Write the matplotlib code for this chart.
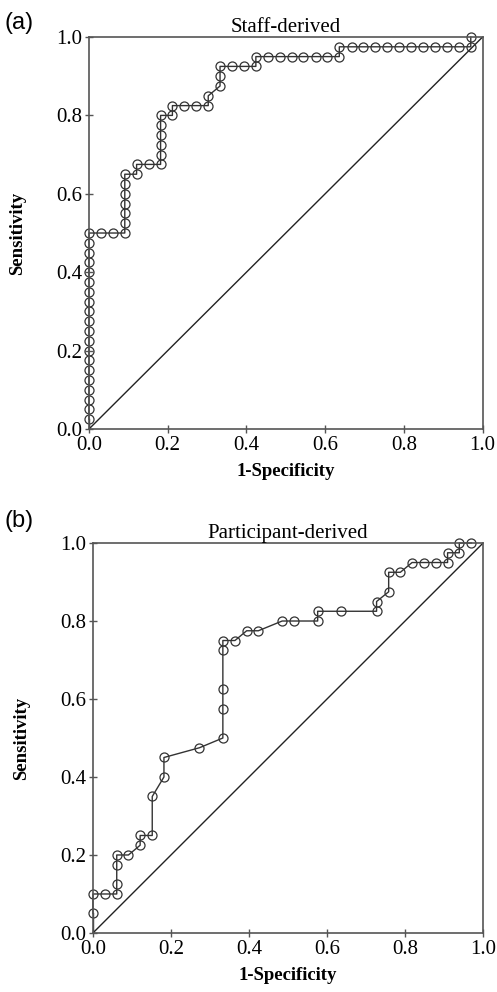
import matplotlib.pyplot as plt

plt.rcParams['font.family'] = 'Liberation Serif'

# (a) Staff-derived ROC points (1-specificity, sensitivity)
staff_x = [0.0] * 21 + [0.030, 0.061, 0.091, 0.091, 0.091, 0.091, 0.091, 0.091, 0.091,
           0.121, 0.121, 0.152, 0.182, 0.182, 0.182, 0.182, 0.182, 0.182,
           0.212, 0.212, 0.242, 0.273, 0.303, 0.303, 0.333, 0.333, 0.333,
           0.364, 0.394, 0.424, 0.424, 0.455, 0.485, 0.515, 0.545, 0.576, 0.606, 0.636,
           0.636, 0.667, 0.697, 0.727, 0.758, 0.788, 0.818, 0.848, 0.879, 0.909, 0.939, 0.970,
           0.970]
staff_y = [0.0, 0.025, 0.05, 0.075, 0.1, 0.125, 0.15, 0.175, 0.2, 0.225, 0.25,
           0.275, 0.3, 0.325, 0.35, 0.375, 0.4, 0.425, 0.45, 0.475, 0.5,
           0.5, 0.5, 0.5, 0.525, 0.55, 0.575, 0.6, 0.625, 0.65,
           0.65, 0.675, 0.675, 0.675, 0.7, 0.725, 0.75, 0.775, 0.8,
           0.8, 0.825, 0.825, 0.825, 0.825, 0.85, 0.875, 0.9, 0.925,
           0.925, 0.925, 0.925, 0.95, 0.95, 0.95, 0.95, 0.95, 0.95, 0.95, 0.95,
           0.975, 0.975, 0.975, 0.975, 0.975, 0.975, 0.975, 0.975, 0.975, 0.975, 0.975, 0.975,
           1.0]

# (b) Participant-derived ROC points
part_x = [0.0, 0.0, 0.0, 0.030, 0.061, 0.061, 0.061, 0.061, 0.091, 0.121, 0.121,
          0.152, 0.152, 0.182, 0.182, 0.273, 0.333, 0.333, 0.333, 0.333, 0.333,
          0.364, 0.394, 0.424, 0.485, 0.515, 0.576, 0.576, 0.636, 0.727, 0.727,
          0.758, 0.758, 0.788, 0.818, 0.848, 0.879, 0.909, 0.909, 0.939, 0.939, 0.970]
part_y = [0.0, 0.05, 0.1, 0.1, 0.1, 0.125, 0.175, 0.2, 0.2, 0.225, 0.25,
          0.25, 0.35, 0.4, 0.45, 0.475, 0.5, 0.575, 0.625, 0.725, 0.75,
          0.75, 0.775, 0.775, 0.8, 0.8, 0.8, 0.825, 0.825, 0.825, 0.85,
          0.875, 0.925, 0.925, 0.95, 0.95, 0.95, 0.95, 0.975, 0.975, 1.0, 1.0]

ticks = [0.0, 0.2, 0.4, 0.6, 0.8, 1.0]

fig = plt.figure(figsize=(4.97, 9.92), dpi=100)
ax1 = fig.add_axes([0.179, 0.5675, 0.792, 0.3952])
ax2 = fig.add_axes([0.187, 0.0595, 0.785, 0.3931])

panels = [(ax1, staff_x, staff_y, 'Staff-derived', '(a)', 0.977),
          (ax2, part_x, part_y, 'Participant-derived', '(b)', 0.475)]

for ax, xs, ys, title, tag, ty in panels:
    ax.plot([0, 1], [0, 1], color='#222222', lw=1.0)
    # first point (0, 0) is joined by the line but carries no marker
    ax.plot(xs[:2], ys[:2], color='#333333', lw=1.0)
    ax.plot(xs[1:], ys[1:], color='#333333', lw=1.0, marker='o', ms=6.5,
            markerfacecolor='none', markeredgecolor='#333333', mew=0.9,
            clip_on=False)
    ax.set_xlim(0, 1)
    ax.set_ylim(0, 1)
    ax.set_xticks(ticks)
    ax.set_yticks(ticks)
    ax.set_xticklabels(['%.1f' % t for t in ticks], fontsize=15)
    ax.set_yticklabels(['%.1f' % t for t in ticks], fontsize=15)
    ax.tick_params(axis='both', direction='inout', length=6, width=1.0,
                   color='#555555', pad=2)
    for sp in ax.spines.values():
        sp.set_color('#555555')
        sp.set_linewidth(1.2)
    ax.set_title(title, fontsize=15, pad=3)
    ax.set_xlabel('1-Specificity', fontsize=13.5, fontweight='bold', labelpad=6)
    ax.set_ylabel('Sensitivity', fontsize=13.5, fontweight='bold')
    ax.yaxis.set_label_coords(-0.16, 0.5)
    fig.text(0.01, ty, tag, fontsize=17, family='Liberation Sans', va='center')

plt.savefig('out.png', dpi=100)
